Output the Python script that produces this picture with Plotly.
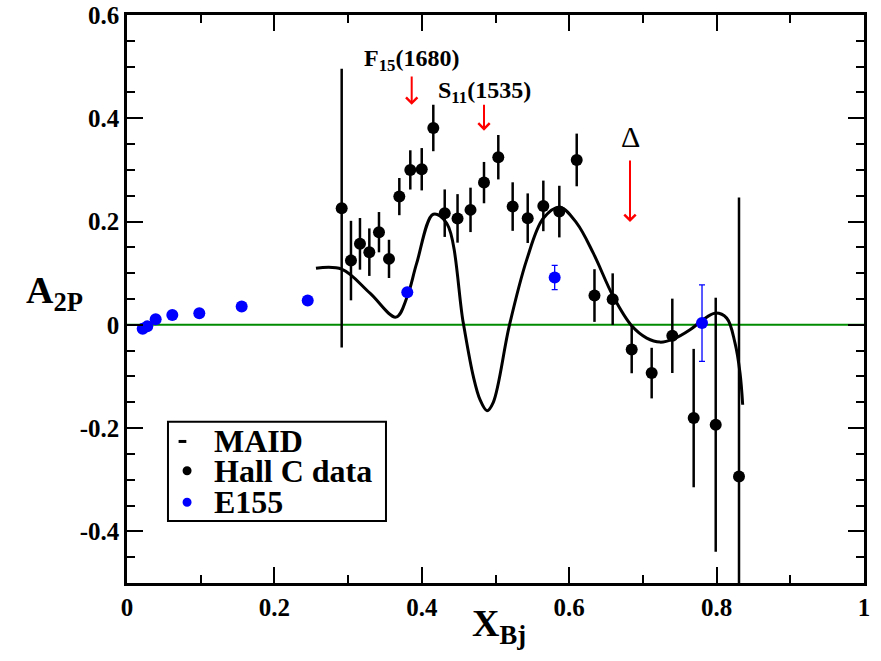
import plotly.graph_objects as go

# Hall C measurements of A2 for the proton
hallc_x = [0.2913, 0.3039, 0.3161, 0.3288, 0.3419, 0.3555, 0.3695, 0.3844,
           0.3999, 0.4156, 0.4311, 0.4485, 0.4661, 0.4844, 0.5038, 0.5233,
           0.5437, 0.5649, 0.5866, 0.6102, 0.6343, 0.6590, 0.6848, 0.7119,
           0.7399, 0.7689, 0.7988, 0.8304]
hallc_a2 = [0.2259, 0.1244, 0.1568, 0.1407, 0.1794, 0.1277, 0.2483, 0.3000,
            0.3013, 0.3812, 0.2162, 0.2061, 0.2226, 0.2754, 0.3246, 0.2290,
            0.2065, 0.2303, 0.2193, 0.3193, 0.0567, 0.0497, -0.0478, -0.0935,
            -0.0213, -0.1806, -0.1935, -0.2936]
hallc_err = [0.270, 0.077, 0.050, 0.046, 0.039, 0.037, 0.036, 0.038,
             0.041, 0.045, 0.046, 0.047, 0.043, 0.040, 0.043, 0.047,
             0.048, 0.049, 0.050, 0.051, 0.051, 0.050, 0.046, 0.049,
             0.072, 0.134, 0.246, 0.540]

# E155 results
e155_x = [0.0213, 0.0275, 0.0389, 0.0615, 0.0981, 0.1556, 0.2452, 0.3803,
          0.5803, 0.7802]
e155_a2 = [-0.0077, -0.0030, 0.0110, 0.0190, 0.0226, 0.0355, 0.0470, 0.0630,
           0.0916, 0.0033]
e155_err = [0, 0, 0, 0, 0, 0, 0, 0, 0.0235, 0.074]

# MAID model curve
maid_x = [0.2564, 0.2913, 0.3297, 0.3650, 0.3803, 0.3931, 0.4156, 0.4338,
          0.4563, 0.4699, 0.4790, 0.4885, 0.4970, 0.5187, 0.5423, 0.5649,
          0.5875, 0.6102, 0.6327, 0.6598, 0.6848, 0.7052, 0.7232, 0.7413,
          0.7639, 0.7802, 0.7978, 0.8137, 0.8250, 0.8318, 0.8354]
maid_a2 = [0.1097, 0.1078, 0.0613, 0.0149, 0.0548, 0.1194, 0.2142, 0.1968,
           0.0033, -0.1000, -0.1450, -0.1664, -0.1500, -0.0020, 0.1258, 0.2065,
           0.2278, 0.1968, 0.1388, 0.0548, -0.0019, -0.0257, -0.0335, -0.0277,
           -0.0097, 0.0083, 0.0226, 0.0130, -0.0354, -0.0935, -0.1548]

x_ticks = [0, 0.2, 0.4, 0.6, 0.8, 1]
x_tick_text = ["0", "0.2", "0.4", "0.6", "0.8", "1"]
y_ticks = [-0.4, -0.2, 0, 0.2, 0.4, 0.6]
y_tick_text = ["-0.4", "-0.2", "0", "0.2", "0.4", "0.6"]

# resonance markers: label, position in x, arrow tail and head in A2
res_labels = ["F<sub>15</sub>(1680)", "S<sub>11</sub>(1535)", "\u0394"]
res_x = [0.3863, 0.4844, 0.6825]
res_arrow_top = [0.484, 0.429, 0.321]
res_arrow_tip = [0.426, 0.376, 0.199]

# legend entries
legend_names = ["MAID", "Hall C data", "E155"]
legend_colors = ["black", "black", "blue"]

FONT = "Liberation Serif"

fig = go.Figure()

fig.add_trace(go.Scatter(
    x=maid_x, y=maid_a2, mode="lines", name=legend_names[0],
    line=dict(color=legend_colors[0], width=3, shape="spline", smoothing=1.0),
))
fig.add_trace(go.Scatter(
    x=hallc_x, y=hallc_a2, mode="markers", name=legend_names[1],
    marker=dict(color=legend_colors[1], size=12),
    error_y=dict(type="data", array=hallc_err, color="black",
                 thickness=2.5, width=0),
))
fig.add_trace(go.Scatter(
    x=e155_x, y=e155_a2, mode="markers", name=legend_names[2],
    marker=dict(color=legend_colors[2], size=12),
    error_y=dict(type="data", array=e155_err, color="blue",
                 thickness=1.3, width=3),
))

# zero line
fig.add_shape(type="line", xref="x", yref="y", x0=0, x1=1, y0=0, y1=0,
              line=dict(color="#008b00", width=2), layer="below")

axis_common = dict(
    showgrid=False, zeroline=False, showline=True, linecolor="black",
    linewidth=2.5, mirror="ticks", ticks="inside", tickcolor="black",
    tickwidth=2, ticklen=16, automargin=False,
    tickfont=dict(family=FONT, size=25, color="black", weight="bold"),
)

fig.update_xaxes(
    range=[0, 1], tickvals=x_ticks, ticktext=x_tick_text,
    minor=dict(dtick=0.1, ticks="inside", ticklen=8, tickwidth=2,
               tickcolor="black"),
    **axis_common,
)
fig.update_yaxes(
    range=[-0.5, 0.6], tickvals=y_ticks, ticktext=y_tick_text,
    minor=dict(dtick=0.05, ticks="inside", ticklen=8, tickwidth=2,
               tickcolor="black"),
    **axis_common,
)

title_font = dict(family=FONT, size=38, color="black", weight="bold")
annotations = [
    dict(text="A<sub>2P</sub>", xref="paper", yref="paper", x=-0.099, y=0.51,
         xanchor="center", yanchor="middle", showarrow=False, font=title_font),
    dict(text="X<sub>Bj</sub>", xref="paper", yref="paper", x=0.505, y=-0.075,
         xanchor="center", yanchor="middle", showarrow=False, font=title_font),
]

label_shift = [-2, -6, 0]
for label, xr, top, tip, ys in zip(res_labels, res_x, res_arrow_top,
                                   res_arrow_tip, label_shift):
    annotations.append(dict(
        x=xr, y=tip, ax=xr, ay=top, xref="x", yref="y", axref="x", ayref="y",
        text="", showarrow=True, arrowhead=4, arrowsize=1.1, arrowwidth=2,
        arrowcolor="red",
    ))
    if label == "\u0394":
        annotations.append(dict(
            x=xr, y=top, xref="x", yref="y", text=label, showarrow=False,
            xanchor="center", yanchor="bottom", yshift=4,
            font=dict(family=FONT, size=30, color="black"),
        ))
    else:
        annotations.append(dict(
            x=xr, y=top, xref="x", yref="y", text=label, showarrow=False,
            xanchor="center", yanchor="bottom", yshift=ys,
            font=dict(family=FONT, size=24, color="black", weight="bold"),
        ))

# boxed key in the lower left
shapes = [dict(type="rect", xref="paper", yref="paper",
               x0=0.0556, x1=0.3514, y0=0.109, y1=0.2838,
               line=dict(color="black", width=2), fillcolor="white",
               layer="above")]
key_y = [0.2492, 0.1976, 0.1422]
for name, color, ky in zip(legend_names, legend_colors, key_y):
    if name == "MAID":
        shapes.append(dict(type="line", xref="paper", yref="paper",
                           x0=0.0700, x1=0.0805, y0=ky, y1=ky,
                           line=dict(color=color, width=3), layer="above"))
    else:
        shapes.append(dict(type="circle", xref="paper", yref="paper",
                           xsizemode="pixel", ysizemode="pixel",
                           xanchor=0.0815, yanchor=ky,
                           x0=-4.5, x1=4.5, y0=-4.5, y1=4.5,
                           line=dict(color=color, width=0), fillcolor=color,
                           layer="above"))
    annotations.append(dict(
        text=name, xref="paper", yref="paper", x=0.1153, y=ky,
        xanchor="left", yanchor="middle", showarrow=False,
        font=dict(family=FONT, size=32, color="black", weight="bold"),
    ))

fig.update_layout(
    width=881, height=661,
    margin=dict(l=127, r=17, t=15, b=78),
    paper_bgcolor="white", plot_bgcolor="white",
    annotations=annotations, shapes=fig.layout.shapes + tuple(shapes),
    showlegend=False,
)

fig.write_html("out.html")
